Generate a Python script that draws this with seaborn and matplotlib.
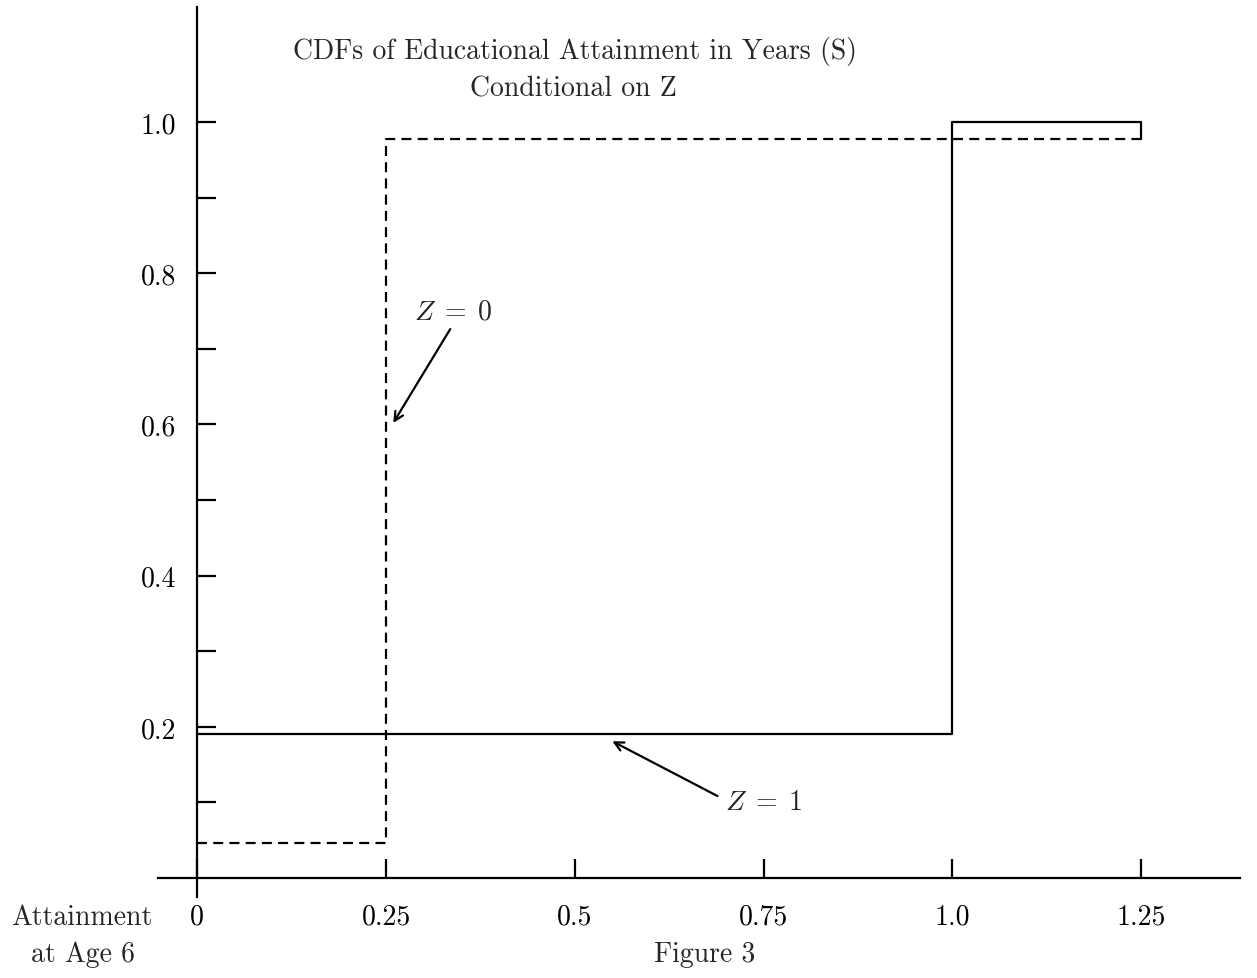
import numpy as np
import pandas as pd
import matplotlib
matplotlib.use('Agg')
import matplotlib.pyplot as plt
import seaborn as sns

# attainment levels (x) and CDF values
z1_x = [0, 0.25, 1.0, 1.25, 1.25]
z1_cdf = [0.19, 0.19, 1.0, 1.0, 0.9775]
z0_x = [0, 0.25, 1.0, 1.25]
z0_cdf = [0.047, 0.9775, 0.9775, 0.9775]

xticks = [0, 0.25, 0.5, 0.75, 1.0, 1.25]
xticklabels = ['0', '0.25', '0.5', '0.75', '1.0', '1.25']
yticks = [0.2, 0.4, 0.6, 0.8, 1.0]
yticklabels = ['0.2', '0.4', '0.6', '0.8', '1.0']
yminor = [0.1, 0.3, 0.5, 0.7, 0.9]

sns.set_style('white')
plt.rcParams['font.family'] = ['cmr10', 'DejaVu Serif']
plt.rcParams['mathtext.fontset'] = 'cm'
plt.rcParams['axes.unicode_minus'] = False
plt.rcParams['axes.formatter.use_mathtext'] = True

fs = 20
fig = plt.figure(figsize=(12.57, 9.79), dpi=100)
W, H = 1257, 979
ax = fig.add_axes([158 / W, 1 - 898 / H, (1240 - 158) / W, (898 - 8) / H])

df1 = pd.DataFrame({'x': z1_x, 'cdf': z1_cdf})
df0 = pd.DataFrame({'x': z0_x, 'cdf': z0_cdf})
sns.lineplot(data=df1, x='x', y='cdf', ax=ax, color='black', lw=1.6,
             drawstyle='steps-post', estimator=None, sort=False)
sns.lineplot(data=df0, x='x', y='cdf', ax=ax, color='black', lw=1.6,
             drawstyle='steps-post', estimator=None, sort=False,
             dashes=(4.5, 2.8))
for l in ax.lines:
    l.set_solid_joinstyle('round')
    l.set_dash_joinstyle('round')

ax.set_xlim(-0.052, 1.381)
ax.set_ylim(-0.025, 1.152)
ax.spines['top'].set_visible(False)
ax.spines['right'].set_visible(False)
ax.spines['left'].set_position(('data', 0))
ax.spines['bottom'].set_position(('data', 0))
for s in ['left', 'bottom']:
    ax.spines[s].set_linewidth(1.6)
    ax.spines[s].set_color('black')

ax.set_xticks(xticks)
ax.set_xticklabels(xticklabels)
ax.set_yticks(yticks)
ax.set_yticklabels(yticklabels)
ax.set_yticks(yminor, minor=True)
ax.tick_params(axis='x', direction='in', length=14, width=1.6, pad=18,
               labelsize=fs, bottom=True, colors='black')
ax.tick_params(axis='y', which='both', direction='in', length=14, width=1.6,
               pad=15, labelsize=fs, left=True, colors='black')
ax.set_xlabel('')
ax.set_ylabel('')

ax.text(0.500, 1.094, 'CDFs of Educational Attainment in Years (S)',
        ha='center', va='center', fontsize=fs)
ax.text(0.4987, 1.044, 'Conditional on Z', ha='center', va='center', fontsize=fs)

arrow = dict(arrowstyle='->', color='black', lw=1.6, shrinkA=0, shrinkB=0,
             mutation_scale=16)
ax.annotate('', xy=(0.2596, 0.602), xytext=(0.335, 0.726), arrowprops=arrow)
ax.text(0.339, 0.749, r'$Z\;=\;0$', ha='center', va='center', fontsize=fs)
ax.annotate('', xy=(0.5497, 0.181), xytext=(0.689, 0.1085), arrowprops=arrow)
ax.text(0.750, 0.1005, r'$Z\;=\;1$', ha='center', va='center', fontsize=fs)

fig.text(82 / W, 1 - 918 / H, 'Attainment', ha='center', va='center', fontsize=fs)
fig.text(83 / W, 1 - 955 / H, 'at Age 6', ha='center', va='center', fontsize=fs)
fig.text(705 / W, 1 - 955 / H, 'Figure 3', ha='center', va='center', fontsize=fs)

fig.savefig('out.png', dpi=100)
